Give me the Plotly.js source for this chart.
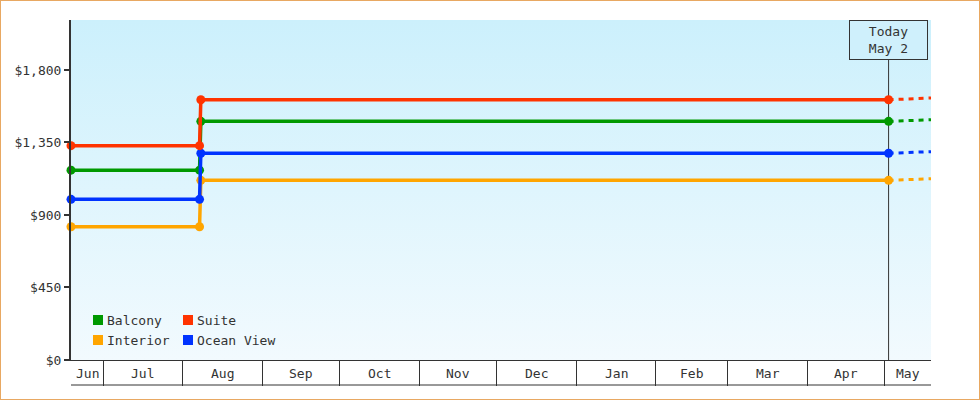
<!DOCTYPE html>
<html>
<head>
<meta charset="utf-8">
<script src="https://cdn.plot.ly/plotly-3.0.1.min.js"></script>
<style>
  html, body { margin: 0; padding: 0; background: #fff; }
  #chart { width: 978px; height: 398px; border: 1px solid #e8a862; }
</style>
</head>
<body>
<div id="chart"></div>
<script>
'use strict';

// price history points (same dates for every cabin type)
const dates = ['2024-06-18 12:00', '2024-08-07 12:00', '2024-08-08 00:00', '2025-05-02 12:00'];
const balcony = [1178, 1178, 1481, 1481];
const suite = [1330, 1330, 1615, 1615];
const interior = [827, 827, 1115, 1115];
const oceanView = [997, 997, 1283, 1283];

// projection past today
const forecastDates = ['2025-05-02 12:00', '2025-05-19'];
const balconyForecast = [1481, 1491];
const suiteForecast = [1615, 1626];
const interiorForecast = [1115, 1125];
const oceanViewForecast = [1283, 1293];

const today = '2025-05-02 12:00';
const todayText = 'Today<br>May 2';

const xRange = ['2024-06-18 12:00', '2025-05-19'];
const monthStarts = ['2024-07-01', '2024-08-01', '2024-09-01', '2024-10-01', '2024-11-01', '2024-12-01',
    '2025-01-01', '2025-02-01', '2025-03-01', '2025-04-01', '2025-05-01'];
const monthLabels = ['Jun', 'Jul', 'Aug', 'Sep', 'Oct', 'Nov', 'Dec', 'Jan', 'Feb', 'Mar', 'Apr', 'May'];

// legend: two columns, two rows
const legendNames = ['Balcony', 'Interior', 'Suite', 'Ocean View'];
const legendColors = ['#009900', '#ffa500', '#ff3300', '#0033ff'];

const colors = { balcony: '#009900', suite: '#ff3300', interior: '#ffa500', ocean: '#0033ff' };
const font = { family: 'DejaVu Sans Mono, monospace', size: 13, color: '#333' };

function series(y, color) {
    return {
        x: dates, y: y, type: 'scatter', mode: 'lines+markers',
        line: { color: color, width: 3.5 },
        marker: { color: color, size: 9 },
        cliponaxis: false, showlegend: false, hoverinfo: 'skip'
    };
}

function forecast(y, color) {
    return {
        x: forecastDates, y: y, type: 'scatter', mode: 'lines',
        line: { color: color, width: 3, dash: '5px,5px' },
        showlegend: false, hoverinfo: 'skip'
    };
}

const traces = [
    forecast(interiorForecast, colors.interior),
    forecast(oceanViewForecast, colors.ocean),
    forecast(balconyForecast, colors.balcony),
    forecast(suiteForecast, colors.suite),
    series(interior, colors.interior),
    series(balcony, colors.balcony),
    series(oceanView, colors.ocean),
    series(suite, colors.suite)
];

// month labels sit in the middle of the visible part of each month
const toMs = d => new Date(d.length > 10 ? d.replace(' ', 'T') + ':00Z' : d + 'T00:00:00Z').getTime();
const bounds = [xRange[0]].concat(monthStarts, [xRange[1]]).map(toMs);
const monthAnnotations = monthLabels.map((label, i) => ({
    x: new Date((bounds[i] + bounds[i + 1]) / 2).toISOString().replace('T', ' ').slice(0, 19),
    xref: 'x', y: 0, yref: 'paper', yanchor: 'middle', yshift: -13,
    text: label, showarrow: false, font: font
}));

// hand-placed legend, pixel offsets from the plot's bottom-left corner
const legendShapes = [];
const legendAnnotations = [];
legendNames.forEach((name, i) => {
    const col = Math.floor(i / 2), row = i % 2;
    const left = 22 + col * 90, mid = 40 - row * 20;
    legendShapes.push({
        type: 'rect', xref: 'paper', yref: 'paper',
        xsizemode: 'pixel', xanchor: 0, x0: left, x1: left + 10,
        ysizemode: 'pixel', yanchor: 0, y0: mid - 5, y1: mid + 5,
        fillcolor: legendColors[i], line: { width: 0 }
    });
    legendAnnotations.push({
        x: 0, xref: 'paper', xanchor: 'left', xshift: left + 12,
        y: 0, yref: 'paper', yanchor: 'middle', yshift: mid,
        text: name, showarrow: false, font: font
    });
});

const gradient = "<svg xmlns='http://www.w3.org/2000/svg' width='10' height='100' preserveAspectRatio='none'>" +
    "<defs><linearGradient id='g' x1='0' y1='0' x2='0' y2='1'>" +
    "<stop offset='0' stop-color='#ccf0fc'/><stop offset='1' stop-color='#f2fafe'/>" +
    "</linearGradient></defs><rect width='10' height='100' fill='url(#g)'/></svg>";

const layout = {
    width: 978,
    height: 398,
    margin: { l: 70, r: 48, t: 19, b: 39 },
    paper_bgcolor: '#fff',
    plot_bgcolor: 'rgba(0,0,0,0)',
    font: font,
    showlegend: false,
    xaxis: {
        type: 'date', range: xRange,
        tickvals: monthStarts, showticklabels: false,
        ticks: 'outside', ticklen: 25, tickwidth: 1, tickcolor: '#333',
        showline: true, linecolor: '#333', linewidth: 1,
        showgrid: false, zeroline: false, fixedrange: true
    },
    yaxis: {
        range: [0, 2110], tick0: 0, dtick: 450,
        tickprefix: '$', tickformat: ',d',
        ticks: 'outside', ticklen: 5, tickwidth: 2, tickcolor: '#333',
        showline: true, linecolor: '#333', linewidth: 2,
        showgrid: false, zeroline: false, fixedrange: true
    },
    images: [{
        source: 'data:image/svg+xml;charset=utf-8,' + encodeURIComponent(gradient),
        xref: 'paper', yref: 'paper', x: 0, y: 1, sizex: 1, sizey: 1,
        xanchor: 'left', yanchor: 'top', sizing: 'stretch', layer: 'below'
    }],
    shapes: [
        {
            type: 'line', xref: 'x', yref: 'paper', x0: today, x1: today, y0: 0, y1: 1,
            line: { color: '#333', width: 1 }, layer: 'below'
        },
        {
            type: 'line', xref: 'paper', yref: 'paper', ysizemode: 'pixel', yanchor: 0,
            x0: 0, x1: 1, y0: -25, y1: -25, line: { color: '#333', width: 1 }
        }
    ].concat(legendShapes),
    annotations: monthAnnotations.concat(legendAnnotations, [{
        x: today, xref: 'x', y: 1, yref: 'paper', xanchor: 'center', yanchor: 'top',
        text: todayText, showarrow: false, font: font, align: 'center',
        width: 77, height: 38, borderpad: 0,
        bgcolor: '#cff0fc', bordercolor: '#333', borderwidth: 1
    }]),
    hovermode: false
};

Plotly.newPlot('chart', traces, layout, { displayModeBar: false, staticPlot: true });
</script>
</body>
</html>
